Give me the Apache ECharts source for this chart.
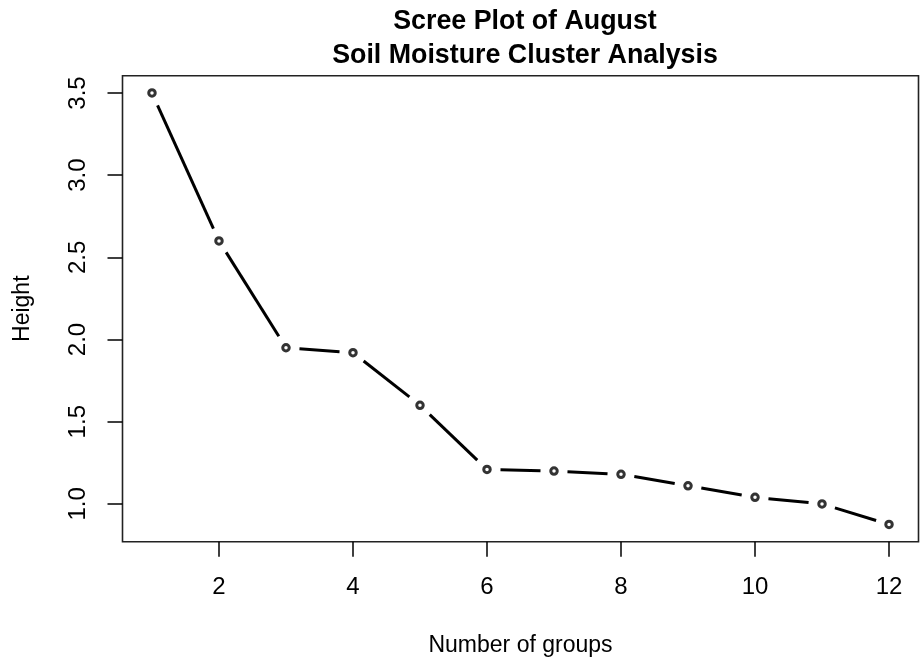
<!DOCTYPE html>
<html>
<head>
<meta charset="utf-8">
<script src="https://cdn.jsdelivr.net/npm/echarts@6/dist/echarts.min.js"></script>
<style>
  html, body { margin: 0; padding: 0; background: #fff; }
  #chart { width: 924px; height: 666px; }
</style>
</head>
<body>
<div id="chart"></div>
<script>
// Number of clusters and the merge height at which each grouping appears
var groups = [1, 2, 3, 4, 5, 6, 7, 8, 9, 10, 11, 12];
var heights = [3.50, 2.60, 1.95, 1.92, 1.60, 1.21, 1.20, 1.18, 1.11, 1.04, 1.00, 0.875];

// Tick positions on each axis
var xTicks = [2, 4, 6, 8, 10, 12];
var yTicks = [1.0, 1.5, 2.0, 2.5, 3.0, 3.5];

var FONT = '"Liberation Sans", Arial, sans-serif';

// Axis ranges padded by 4% of the data span on each side
function padRange(vals) {
  var lo = Math.min.apply(null, vals), hi = Math.max.apply(null, vals);
  var pad = (hi - lo) * 0.04;
  return [lo - pad, hi + pad];
}
var xr = padRange(groups);
var yr = padRange(heights);

// Consecutive point pairs, drawn as line segments that stop short of the markers
var segments = [];
for (var i = 0; i < groups.length - 1; i++) {
  segments.push([groups[i], heights[i], groups[i + 1], heights[i + 1]]);
}
var points = groups.map(function (g, i) { return [g, heights[i]]; });

var GAP = 13.5;

var chart = echarts.init(document.getElementById('chart'), null, { renderer: 'canvas' });
chart.setOption({
  animation: false,
  backgroundColor: '#fff',
  title: {
    text: 'Scree Plot of August\nSoil Moisture Cluster Analysis',
    left: 520,
    top: 0,
    textAlign: 'center',
    textStyle: {
      fontFamily: FONT,
      fontWeight: 'bold',
      fontSize: 26.8,
      lineHeight: 34,
      color: '#000'
    }
  },
  grid: {
    left: 122.5,
    right: 5.5,
    top: 75.7,
    bottom: 124.3,
    show: true,
    borderColor: '#222',
    borderWidth: 1.6,
    containLabel: false
  },
  xAxis: {
    type: 'value',
    min: xr[0],
    max: xr[1],
    name: 'Number of groups',
    nameLocation: 'middle',
    nameGap: 92,
    nameTextStyle: { fontFamily: FONT, fontSize: 23, color: '#000' },
    axisLine: { show: false },
    splitLine: { show: false },
    axisTick: {
      show: true,
      customValues: xTicks,
      length: 15,
      lineStyle: { color: '#000', width: 1.5 }
    },
    axisLabel: {
      customValues: xTicks,
      margin: 34,
      fontFamily: FONT,
      fontSize: 24,
      color: '#000'
    }
  },
  yAxis: {
    type: 'value',
    min: yr[0],
    max: yr[1],
    name: 'Height',
    nameLocation: 'middle',
    nameGap: 88,
    nameRotate: 90,
    nameTextStyle: { fontFamily: FONT, fontSize: 23, color: '#000' },
    axisLine: { show: false },
    splitLine: { show: false },
    axisTick: {
      show: true,
      customValues: yTicks,
      length: 15,
      lineStyle: { color: '#000', width: 1.5 }
    },
    axisLabel: {
      customValues: yTicks,
      rotate: 90,
      margin: 32,
      fontFamily: FONT,
      fontSize: 24,
      color: '#000',
      formatter: function (v) { return v.toFixed(1); }
    }
  },
  series: [
    {
      type: 'custom',
      data: segments,
      encode: { x: [0, 2], y: [1, 3] },
      renderItem: function (params, api) {
        var a = api.coord([api.value(0), api.value(1)]);
        var b = api.coord([api.value(2), api.value(3)]);
        var dx = b[0] - a[0], dy = b[1] - a[1];
        var len = Math.sqrt(dx * dx + dy * dy);
        if (len <= 2 * GAP) { return null; }
        var ux = dx / len, uy = dy / len;
        return {
          type: 'line',
          shape: {
            x1: a[0] + ux * GAP, y1: a[1] + uy * GAP,
            x2: b[0] - ux * GAP, y2: b[1] - uy * GAP
          },
          style: { stroke: '#000', lineWidth: 3 }
        };
      },
      z: 2
    },
    {
      type: 'scatter',
      data: points,
      symbol: 'circle',
      symbolSize: 6.5,
      itemStyle: { color: '#fff', borderColor: '#000', borderWidth: 3 },
      z: 3
    }
  ]
});
</script>
</body>
</html>
